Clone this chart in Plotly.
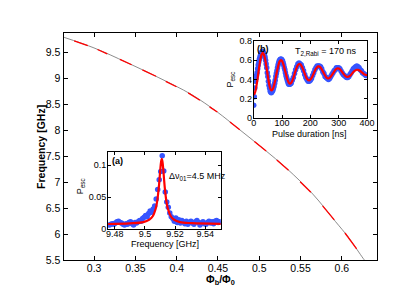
import plotly.graph_objects as go

# ---------------- main spectroscopy curve ----------------
phi_curve = [0.2637, 0.2998, 0.3392, 0.3784, 0.4177, 0.4492, 0.4743, 0.5058,
             0.5333, 0.5649, 0.5922, 0.6080, 0.6257, 0.6275]
freq_curve = [9.79, 9.587, 9.309, 9.013, 8.691, 8.352, 8.037, 7.635,
              7.265, 6.772, 6.246, 5.939, 5.537, 5.50]

# red segments (start, end)
red_phi = [0.2758, 0.2923, None, 0.3041, 0.3159, None, 0.3312, 0.3454, None,
           0.3584, 0.3749, None, 0.3867, 0.3997, None, 0.4139, 0.4281, None,
           0.4398, 0.4492, None, 0.4645, 0.4764, None, 0.4941, 0.5083, None,
           0.5212, 0.5354, None, 0.5495, 0.5625, None, 0.5767, 0.5908, None,
           0.6038, 0.6179]
red_freq = [9.722, 9.63, None, 9.556, 9.472, None, 9.365, 9.263, None,
            9.165, 9.041, None, 8.944, 8.839, None, 8.722, 8.58, None,
            8.452, 8.352, None, 8.159, 8.011, None, 7.787, 7.604, None,
            7.428, 7.233, None, 7.011, 6.809, None, 6.546, 6.276, None,
            6.024, 5.717]

main_xticks = [0.3, 0.35, 0.4, 0.45, 0.5, 0.55, 0.6]
main_yticks = [5.5, 6, 6.5, 7, 7.5, 8, 8.5, 9, 9.5]

# ---------------- inset (a): resonance ----------------
res_f = [9.4765, 9.4775, 9.4785, 9.4795, 9.4805, 9.4815, 9.4825, 9.4835, 9.4845,
         9.4855, 9.4865, 9.4875, 9.4885, 9.4895, 9.4905, 9.4915, 9.4925, 9.4935,
         9.4945, 9.4955, 9.4965, 9.4975, 9.4985, 9.4995, 9.5005, 9.5015, 9.5025,
         9.5035, 9.5045, 9.5055, 9.5065, 9.5075, 9.5085, 9.5095, 9.5105, 9.5115,
         9.5125, 9.5135, 9.5145, 9.5155, 9.5165, 9.5175, 9.5185, 9.5195, 9.5205,
         9.5215, 9.5225, 9.5235, 9.5245, 9.5255, 9.5265, 9.5275, 9.5285, 9.5295,
         9.5305, 9.5315, 9.5325, 9.5335, 9.5345, 9.5355, 9.5365, 9.5375, 9.5385,
         9.5395, 9.5405, 9.5415, 9.5425, 9.5435, 9.5445, 9.5455, 9.5465, 9.5475,
         9.5485, 9.5495]
res_p = [0.006, 0.007, 0.008, 0.007, 0.009, 0.011, 0.012, 0.010, 0.009,
         0.007, 0.006, 0.008, 0.007, 0.010, 0.011, 0.008, 0.006, 0.010,
         0.009, 0.011, 0.013, 0.012, 0.016, 0.018, 0.021, 0.019, 0.024,
         0.028, 0.026, 0.031, 0.036, 0.047, 0.062, 0.077, 0.090, 0.115,
         0.091, 0.058, 0.042, 0.034, 0.025, 0.019, 0.016, 0.012, 0.017,
         0.010, 0.014, 0.009, 0.013, 0.011, 0.008, 0.012, 0.007, 0.010,
         0.012, 0.009, 0.007, 0.011, 0.013, 0.010, 0.006, 0.009, 0.011,
         0.008, 0.007, 0.010, 0.012, 0.009, 0.011, 0.008, 0.012, 0.013,
         0.010, 0.011]
resfit_f = [9.4756, 9.49, 9.499, 9.503, 9.5052, 9.5072, 9.5082, 9.5092, 9.5097,
            9.5102, 9.5107, 9.5112, 9.5117, 9.5122, 9.5127, 9.5132, 9.5142,
            9.5152, 9.5172, 9.5192, 9.5232, 9.5312, 9.5503]
resfit_p = [0.0075, 0.0085, 0.0105, 0.0145, 0.0197, 0.032, 0.044, 0.0645, 0.078,
            0.093, 0.105, 0.110, 0.105, 0.093, 0.078, 0.0645, 0.044,
            0.032, 0.0197, 0.0146, 0.0105, 0.0088, 0.0078]
a_xticks = [9.48, 9.5, 9.52, 9.54]
a_yticks = [0, 0.05, 0.1]
a_yticklabels = ["0", "0.05", "0.1"]

# ---------------- inset (b): Rabi ----------------
rabi_t = [0, 2, 4, 6, 8, 10, 12, 14, 16, 18, 20, 22, 24, 26, 28, 30, 32, 34, 36,
          38, 40, 42, 44, 46, 48, 50, 52, 54, 56, 58, 60, 62, 64, 66, 68, 70, 72,
          74, 76, 78, 80, 82, 84, 86, 88, 90, 92, 94, 96, 98, 100, 102, 104, 106,
          108, 110, 112, 114, 116, 118, 120, 122, 124, 126, 128, 130,
          132, 136, 140, 144, 148, 152, 156, 160, 164, 168, 172, 176, 180, 184,
          188, 192, 196, 200, 204, 208, 212, 216, 220, 224, 228, 232, 236, 240,
          244, 248, 252, 256, 260, 264, 268, 272, 276, 280, 284, 288, 292, 296,
          300, 304, 308, 312, 316, 320, 324, 328, 332, 336, 340, 344, 348, 352,
          356, 360, 364, 368, 372, 376, 380, 384, 388, 392, 396, 400]
rabi_p = [0.13, 0.22, 0.31, 0.38, 0.41, 0.44, 0.47, 0.51, 0.55, 0.58, 0.61, 0.63,
          0.65, 0.67, 0.68, 0.69, 0.69, 0.68, 0.67, 0.65, 0.63, 0.60, 0.56, 0.52,
          0.47, 0.43, 0.38, 0.34, 0.31, 0.28, 0.27, 0.26, 0.27, 0.28, 0.29, 0.31,
          0.33, 0.36, 0.39, 0.43, 0.46, 0.49, 0.52, 0.55, 0.57, 0.59, 0.60, 0.61,
          0.61, 0.61, 0.60, 0.59, 0.57, 0.55, 0.52, 0.50, 0.47, 0.44, 0.42, 0.40,
          0.38, 0.36, 0.35, 0.35, 0.35, 0.36,
          0.36, 0.39, 0.42, 0.46, 0.50, 0.53, 0.56, 0.57, 0.56, 0.55, 0.52, 0.49,
          0.45, 0.42, 0.40, 0.38, 0.38, 0.39, 0.41, 0.44, 0.47, 0.50, 0.52, 0.54,
          0.54, 0.54, 0.53, 0.51, 0.48, 0.46, 0.43, 0.42, 0.41, 0.40, 0.41, 0.43,
          0.45, 0.47, 0.49, 0.50, 0.52, 0.52, 0.52, 0.51, 0.49, 0.47, 0.45, 0.44,
          0.43, 0.42, 0.42, 0.43, 0.45, 0.47, 0.49, 0.51, 0.52, 0.53, 0.54, 0.53,
          0.52, 0.50, 0.49, 0.47, 0.46, 0.45, 0.44, 0.44]
rabifit_t = [0, 4, 8, 12, 16, 20, 24, 28, 32, 36, 40, 44, 48, 52, 56, 60, 64, 68,
             72, 76, 80, 84, 88, 92, 96, 100, 104, 108, 112, 116, 120, 124, 128,
             132, 136, 140, 144, 148, 152, 156, 160, 164, 168, 172, 176, 180, 184,
             188, 192, 196, 200, 204, 208, 212, 216, 220, 224, 228, 232, 236, 240,
             244, 248, 252, 256, 260, 264, 268, 272, 276, 280, 284, 288, 292, 296,
             300, 304, 308, 312, 316, 320, 324, 328, 332, 336, 340, 344, 348, 352,
             356, 360, 364, 368, 372, 376, 380, 384, 388, 392, 396, 400]
rabifit_p = [0.24, 0.257, 0.304, 0.374, 0.4575, 0.541, 0.611, 0.658, 0.675, 0.659,
             0.614, 0.547, 0.47, 0.395, 0.331, 0.294, 0.286, 0.302, 0.34, 0.391,
             0.45, 0.508, 0.556, 0.589, 0.60, 0.591, 0.564, 0.524, 0.4775, 0.431,
             0.391, 0.364, 0.355, 0.362, 0.383, 0.415, 0.453, 0.491, 0.524, 0.549,
             0.56, 0.557, 0.543, 0.52, 0.49, 0.459, 0.431, 0.407, 0.393, 0.39,
             0.398, 0.414, 0.436, 0.4625, 0.489, 0.511, 0.527, 0.535, 0.533,
             0.5225, 0.5055, 0.484, 0.461, 0.44, 0.4225, 0.4125, 0.41, 0.4155,
             0.427, 0.444, 0.4625, 0.481, 0.498, 0.51, 0.515, 0.513, 0.506, 0.494,
             0.478, 0.462, 0.447, 0.434, 0.427, 0.425, 0.429, 0.437, 0.449,
             0.4625, 0.476, 0.488, 0.496, 0.50, 0.499, 0.4945, 0.487, 0.4775,
             0.4675, 0.458, 0.4505, 0.446, 0.445]
b_xticks = [0, 100, 200, 300, 400]
b_yticks = [0, 0.2, 0.4, 0.6, 0.8]

BLUE = "rgb(55,85,255)"
RED = "rgb(255,0,0)"
FONT = "Liberation Sans, Arial, sans-serif"

fig = go.Figure()
fig.add_trace(go.Scatter(x=phi_curve, y=freq_curve, mode="lines", line_shape="spline",
                         line=dict(color="rgb(110,110,110)", width=0.8),
                         xaxis="x", yaxis="y", showlegend=False))
fig.add_trace(go.Scatter(x=red_phi, y=red_freq, mode="lines",
                         line=dict(color=RED, width=1.3), connectgaps=False,
                         xaxis="x", yaxis="y", showlegend=False))

fig.add_trace(go.Scatter(x=res_f, y=res_p, mode="markers",
                         marker=dict(color=BLUE, size=5.5, line=dict(width=0)),
                         xaxis="x2", yaxis="y2", showlegend=False))
fig.add_trace(go.Scatter(x=resfit_f, y=resfit_p, mode="lines", line_shape="spline",
                         line=dict(color=RED, width=2.2),
                         xaxis="x2", yaxis="y2", showlegend=False))

fig.add_trace(go.Scatter(x=rabi_t, y=rabi_p, mode="markers",
                         marker=dict(color=BLUE, size=5.5, line=dict(width=0)),
                         xaxis="x3", yaxis="y3", showlegend=False))
fig.add_trace(go.Scatter(x=rabifit_t, y=rabifit_p, mode="lines", line_shape="spline",
                         line=dict(color=RED, width=2.2),
                         xaxis="x3", yaxis="y3", showlegend=False))

axis_common = dict(showgrid=False, zeroline=False, showline=True, linecolor="black",
                   mirror="ticks", ticks="inside", tickcolor="black",
                   color="black")


def label(text, x, y, size=9, angle=0, xanchor="center", yanchor="middle"):
    return dict(text=text, xref="paper", yref="paper", x=x / 415, y=1 - y / 289,
                xanchor=xanchor, yanchor=yanchor, showarrow=False,
                textangle=angle, font=dict(size=size))


fig.update_layout(
    width=415, height=289,
    margin=dict(l=0, r=0, t=0, b=0),
    paper_bgcolor="white", plot_bgcolor="white",
    font=dict(family=FONT, color="black", size=10),
    xaxis=dict(domain=[54/415, 376/415], range=[0.263, 0.6426], tickvals=main_xticks,
               ticklen=4, linewidth=1.3, tickfont=dict(size=10.5),
               ticklabelstandoff=-2, **axis_common),
    yaxis=dict(domain=[1-257/289, 1-21/289], range=[5.5, 9.87], tickvals=main_yticks,
               ticklen=4, linewidth=1.3, tickfont=dict(size=10.5), **axis_common),
    xaxis2=dict(domain=[99.7/415, 215.5/415], range=[9.4756, 9.5503], tickvals=a_xticks,
                anchor="y2", ticklen=3, linewidth=1, tickfont=dict(size=9),
                ticklabelstandoff=-4, **axis_common),
    yaxis2=dict(domain=[1-224.3/289, 1-144.7/289], range=[0, 0.1206], tickvals=a_yticks,
                ticktext=a_yticklabels, anchor="x2", ticklen=3, linewidth=1,
                tickfont=dict(size=9), ticklabelstandoff=-1, **axis_common),
    xaxis3=dict(domain=[249.3/415, 365.7/415], range=[0, 400], tickvals=b_xticks,
                anchor="y3", ticklen=3, linewidth=1, tickfont=dict(size=9),
                ticklabelstandoff=-4, **axis_common),
    yaxis3=dict(domain=[1-109/289, 1-29/289], range=[0, 0.8], tickvals=b_yticks,
                anchor="x3", ticklen=3, linewidth=1, tickfont=dict(size=9),
                ticklabelstandoff=-1, **axis_common),
    annotations=[
        label("<b>Frequency [GHz]</b>", 31, 139, size=10.5, angle=-90),
        label("<b>Φ<sub>b</sub>/Φ<sub>0</sub></b>", 215, 278, size=10.5),
        label("P<sub>esc</sub>", 71, 180, size=9, angle=-90),
        label("Frequency [GHz]", 158, 240, size=9),
        label("P<sub>esc</sub>", 225, 69, size=9, angle=-90),
        label("Pulse duration [ns]", 307, 126, size=9),
        label("<b>(a)</b>", 102, 147, size=9, xanchor="left", yanchor="top"),
        label("Δν<sub>01</sub>=4.5 MHz", 160.5, 170, size=9, xanchor="left"),
        label("<b>(b)</b>", 251, 30, size=9, xanchor="left", yanchor="top"),
        label("T<sub>2,Rabi</sub> = 170 ns", 290, 40, size=9, xanchor="left"),
    ],
)

fig.write_html("out.html")
